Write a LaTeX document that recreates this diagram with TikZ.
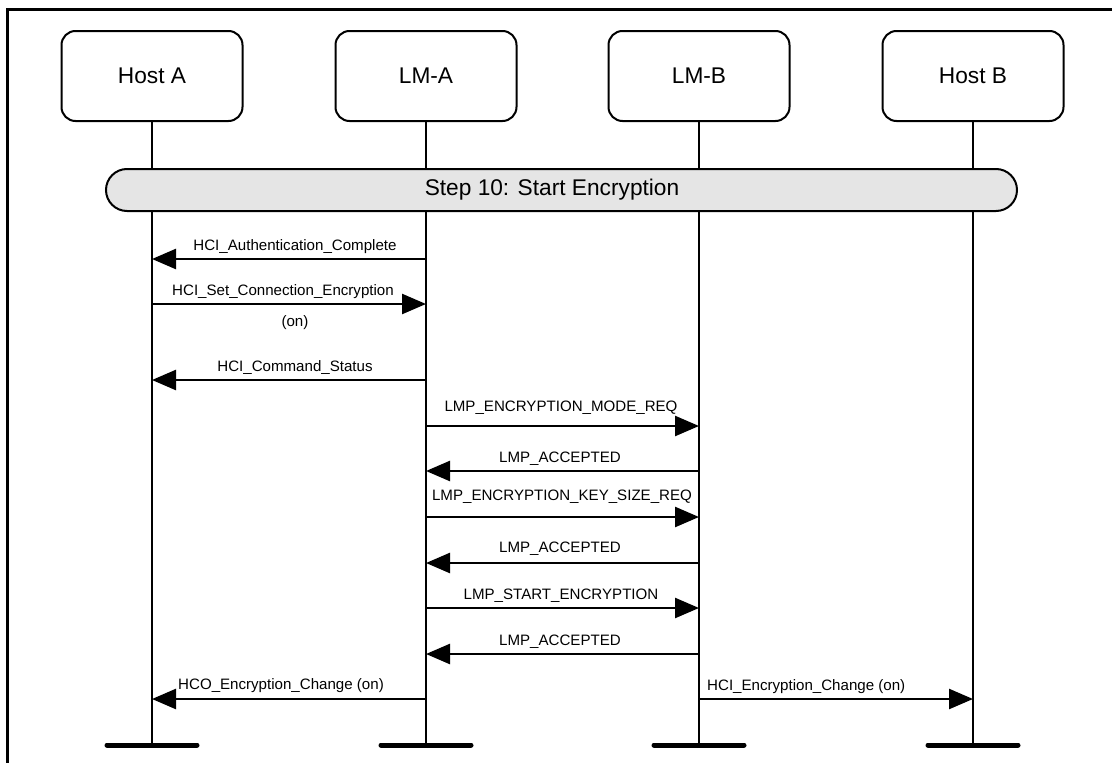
\documentclass[tikz,border=0pt]{standalone}
\usepackage{fontspec}
\setmainfont{Liberation Sans}
\usetikzlibrary{arrows.meta,calc}

\begin{document}
\begin{tikzpicture}[x=1pt,y=-1pt,
    entity/.style={draw, line width=2pt, rounded corners=14pt, minimum width=181pt,
      minimum height=90pt, font=\fontsize{22.7}{27}\selectfont},
    phase/.style={draw, line width=2pt, fill=gray!20, rounded corners=21pt,
      minimum width=911pt, minimum height=42pt},
    life/.style={line width=2pt},
    msg/.style={line width=2.5pt, -{Triangle[length=24pt,width=20pt]}},
    lbl/.style={font=\fontsize{15.1}{18}\selectfont, inner sep=0pt},
    foot/.style={line width=5pt, line cap=round}]
    \useasboundingbox (0,0) rectangle (1112,763);
    \def\yb{745}
    % frame
    \draw[line width=2.5pt] (7.5,763) -- (7.5,9.5) -- (1112,9.5);
    % entities
    \node[entity] (hA) at (152,76) {Host A};
    \node[entity] (lmA) at (426,76) {LM-A};
    \node[entity] (lmB) at (699,76) {LM-B};
    \node[entity] (hB) at (973,76) {Host B};
    \coordinate (eA) at (152,\yb);
    \coordinate (eLA) at (426,\yb);
    \coordinate (eLB) at (699,\yb);
    \coordinate (eB) at (973,\yb);
    \draw[life] (hA) -- (eA);
    \draw[life] (lmA) -- (eLA);
    \draw[life] (lmB) -- (eLB);
    \draw[life] (hB) -- (eB);
    \draw[foot] ($(eA)+(-45,0)$) -- ($(eA)+(45,0)$);
    \draw[foot] ($(eLA)+(-45,0)$) -- ($(eLA)+(45,0)$);
    \draw[foot] ($(eLB)+(-45,0)$) -- ($(eLB)+(45,0)$);
    \draw[foot] ($(eB)+(-45,0)$) -- ($(eB)+(45,0)$);
    % step bar
    \node[phase] (start) at (561.5,190) {};
    \node[font=\fontsize{22.7}{27}\selectfont] (startLbl) at (552,190) {Step 10: Start Encryption};
    % messages
    \draw[msg] (lmA |- 0,259) -- (hA |- 0,259);
    \node[lbl] (m1) at (295,247) {HCI\_Authentication\_Complete};
    \draw[msg] (hA |- 0,304) -- (lmA |- 0,304);
    \node[lbl] (m2) at (283,292) {HCI\_Set\_Connection\_Encryption};
    \node[lbl] (m2b) at (295,323) {(on)};
    \draw[msg] (lmA |- 0,380) -- (hA |- 0,380);
    \node[lbl] (m3) at (295,368) {HCI\_Command\_Status};
    \draw[msg] (lmA |- 0,426) -- (lmB |- 0,426);
    \node[lbl] (m4) at (561,408) {LMP\_ENCRYPTION\_MODE\_REQ};
    \draw[msg] (lmB |- 0,471) -- (lmA |- 0,471);
    \node[lbl] (m5) at (560,459) {LMP\_ACCEPTED};
    \draw[msg] (lmA |- 0,517) -- (lmB |- 0,517);
    \node[lbl] (m6) at (562,497) {LMP\_ENCRYPTION\_KEY\_SIZE\_REQ};
    \draw[msg] (lmB |- 0,563) -- (lmA |- 0,563);
    \node[lbl] (m7) at (560,549) {LMP\_ACCEPTED};
    \draw[msg] (lmA |- 0,608) -- (lmB |- 0,608);
    \node[lbl] (m8) at (561,596) {LMP\_START\_ENCRYPTION};
    \draw[msg] (lmB |- 0,654) -- (lmA |- 0,654);
    \node[lbl] (m9) at (560,642) {LMP\_ACCEPTED};
    \draw[msg] (lmA |- 0,699) -- (hA |- 0,699);
    \node[lbl, anchor=west] (m10) at (178,686) {HCO\_Encryption\_Change (on)};
    \draw[msg] (lmB |- 0,699) -- (hB |- 0,699);
    \node[lbl, anchor=west] (m11) at (707,687) {HCI\_Encryption\_Change (on)};
\end{tikzpicture}
\end{document}
